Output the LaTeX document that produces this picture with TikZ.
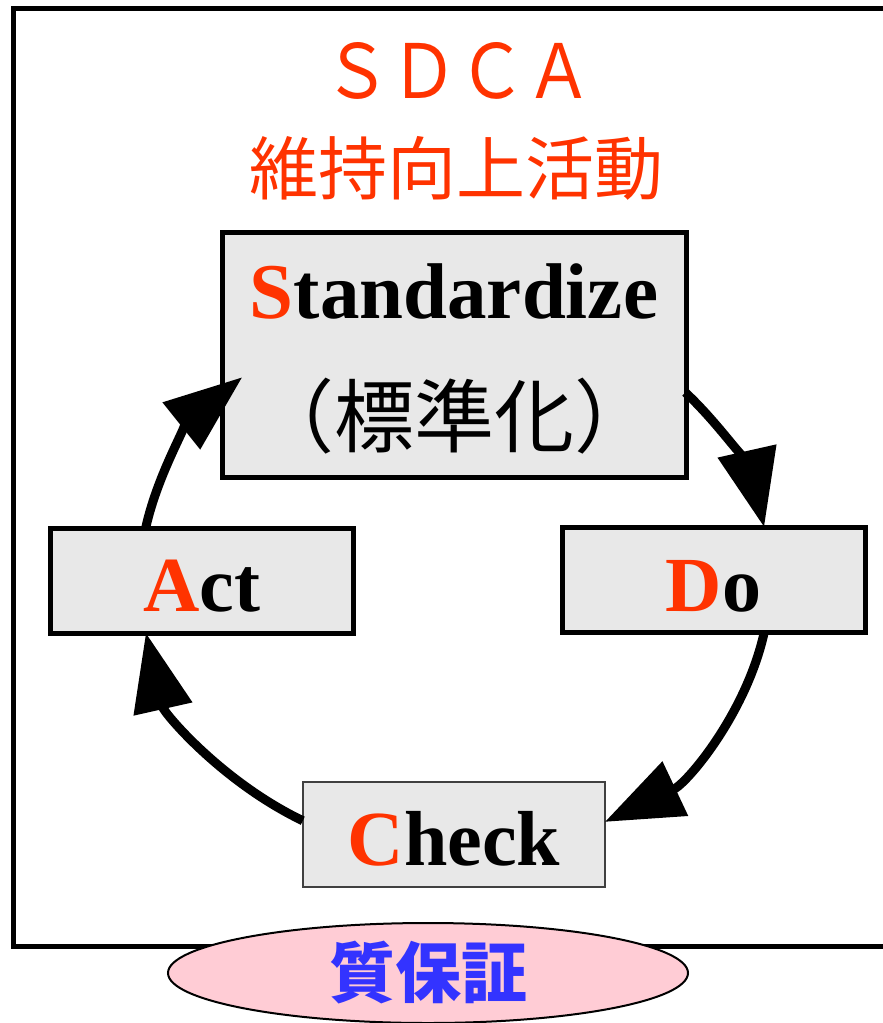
\documentclass[tikz,border=0pt]{standalone}
\usepackage{fontspec}
\setmainfont{Liberation Serif}
\newfontfamily\jp{Noto Sans CJK JP}
\usepackage{tikz}
\usetikzlibrary{arrows.meta,positioning,shapes}
\definecolor{sdred}{HTML}{FF3300}
\definecolor{qablue}{HTML}{3333FF}
\definecolor{qapink}{HTML}{FFCCD5}
\definecolor{boxgray}{HTML}{E8E8E8}

\begin{document}
\begin{tikzpicture}
          [x=1pt,y=1pt,
            box/.style={rectangle,draw,line width=5pt,fill=boxgray,inner sep=0pt,
              minimum width=303pt,minimum height=105pt},
            word/.style={font=\fontsize{78}{110}\selectfont\bfseries,
              text height=62pt,text depth=0pt},
            cyc/.style={line width=9pt,-{Triangle[length=78pt,width=58pt]}}]
          \useasboundingbox (0,0) rectangle (883,-1023);
          \draw[line width=5pt] (13.5,-8.5) rectangle (900,-946.5);
          % titles
          \node[text=sdred,font=\jp\fontsize{75}{75}\selectfont] (ttl) at (458,-71)
            {\scalebox{0.9}[1]{ＳＤＣＡ}};
          \node[text=sdred,font=\jp\fontsize{69}{69}\selectfont] (sub) at (456,-168) {維持向上活動};
          % the four steps
          \node[box,minimum width=464pt,minimum height=245pt,align=center,
            font=\fontsize{79}{128}\selectfont] (std) at (454,-354.5)
            {\rule{0pt}{64pt}\textbf{\textcolor{sdred}{S}tandardize}\\{\jp\fontsize{80}{128}\selectfont （標準化）}};
          \node[box,word] (act) at (201.5,-580.5) {\textcolor{sdred}{A}ct};
          \node[box,word] (do) at (713.5,-580) {\textcolor{sdred}{D}o};
          \node[box,word,line width=1.5pt,draw=black!75,minimum width=302pt] (chk) at (454,-834.5)
            {\textcolor{sdred}{C}heck};
          \node[ellipse,draw,line width=2pt,fill=qapink,minimum width=520pt,minimum height=100pt,
            text=qablue,font=\jp\bfseries\fontsize{66}{66}\selectfont] (qa) at (428,-973) {質保証};
          \coordinate (mid) at (455,-580);
          \foreach \from/\to in {43/11.1,-11.1/-61.6,-118.9/-168.9,168.9/132.5}
          \draw[cyc] ([shift={(\from:315 and 275)}]mid)
            arc[start angle=\from,end angle=\to,x radius=315,y radius=275];
        \end{tikzpicture}
\end{document}
